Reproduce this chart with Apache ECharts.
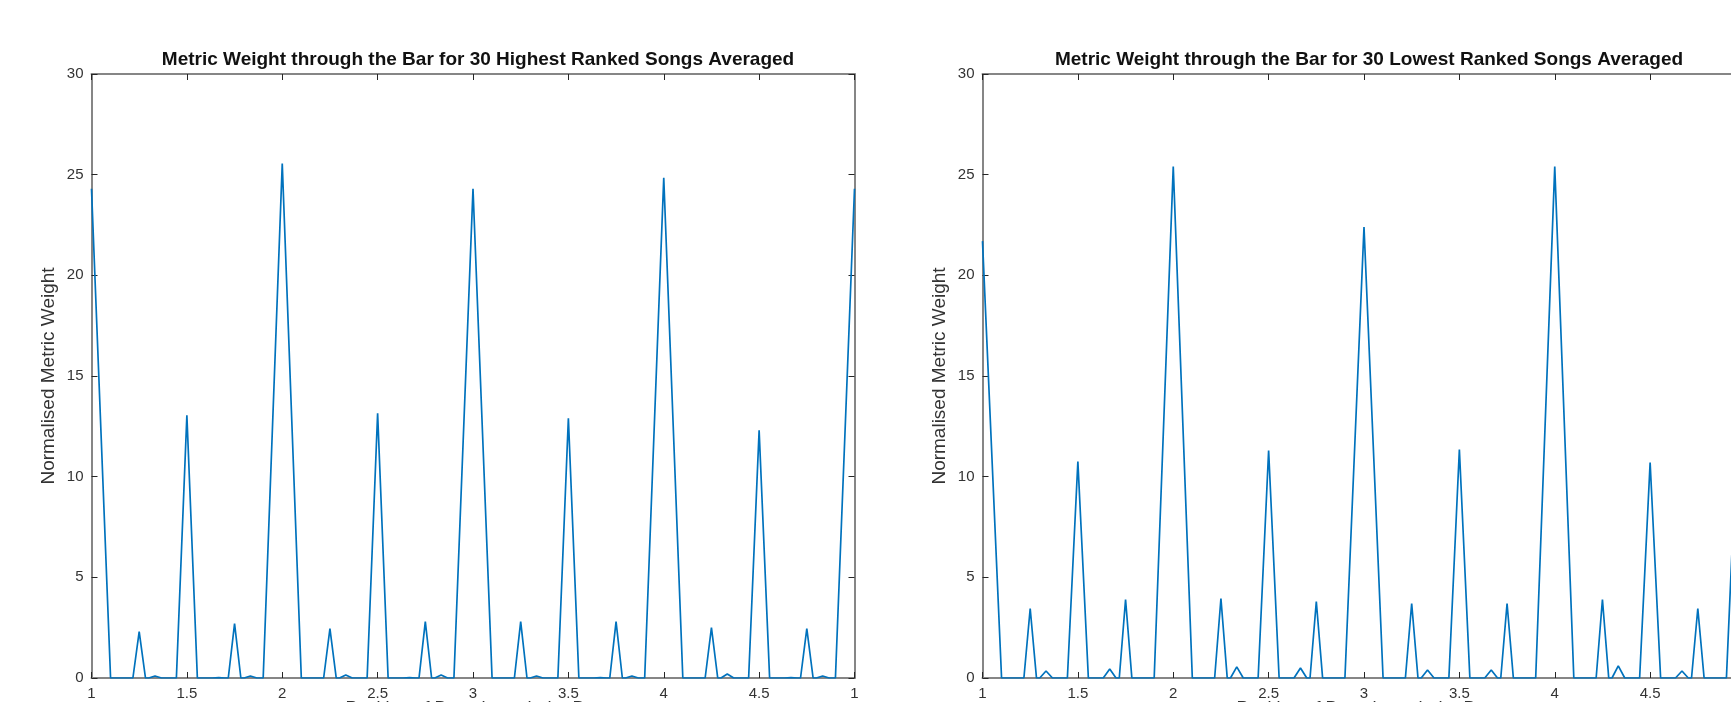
<!DOCTYPE html>
<html>
<head>
<meta charset="utf-8">
<title>Metric Weight through the Bar</title>
<script src="https://cdn.jsdelivr.net/npm/echarts@6/dist/echarts.min.js"></script>
<style>
  html, body { margin: 0; padding: 0; background: #fff; }
  #chart { width: 1731px; height: 702px; }
</style>
</head>
<body>
<div id="chart"></div>
<script>
// position in the bar (beats), shared by both plots
const beatPos = [
  1, 1.1, 1.217, 1.25, 1.283, 1.3, 1.333, 1.367, 1.445, 1.5, 1.555, 1.633, 1.667, 1.7, 1.717, 1.75, 1.783, 1.8, 1.833, 1.867, 1.9,
  2, 2.1, 2.217, 2.25, 2.283, 2.3, 2.333, 2.367, 2.445, 2.5, 2.555, 2.633, 2.667, 2.7, 2.717, 2.75, 2.783, 2.8, 2.833, 2.867, 2.9,
  3, 3.1, 3.217, 3.25, 3.283, 3.3, 3.333, 3.367, 3.445, 3.5, 3.555, 3.633, 3.667, 3.7, 3.717, 3.75, 3.783, 3.8, 3.833, 3.867, 3.9,
  4, 4.1, 4.217, 4.25, 4.283, 4.3, 4.333, 4.367, 4.445, 4.5, 4.555, 4.633, 4.667, 4.7, 4.717, 4.75, 4.783, 4.8, 4.833, 4.867, 4.9,
  5
]

// 30 highest ranked songs
const highWeight = [
  24.3, 0, 0, 2.3, 0, 0, 0.1, 0, 0, 13.05, 0, 0, 0.02, 0, 0, 2.7, 0, 0, 0.1, 0, 0,
  25.55, 0, 0, 2.45, 0, 0, 0.15, 0, 0, 13.15, 0, 0, 0.02, 0, 0, 2.8, 0, 0, 0.15, 0, 0,
  24.3, 0, 0, 2.8, 0, 0, 0.1, 0, 0, 12.9, 0, 0, 0.02, 0, 0, 2.8, 0, 0, 0.1, 0, 0,
  24.85, 0, 0, 2.5, 0, 0, 0.2, 0, 0, 12.3, 0, 0, 0.02, 0, 0, 2.45, 0, 0, 0.1, 0, 0,
  24.3
]

// 30 lowest ranked songs
const lowWeight = [
  21.7, 0, 0, 3.45, 0, 0, 0.35, 0, 0, 10.75, 0, 0, 0.45, 0, 0, 3.9, 0, 0, 0, 0, 0,
  25.4, 0, 0, 3.95, 0, 0, 0.55, 0, 0, 11.3, 0, 0, 0.5, 0, 0, 3.8, 0, 0, 0, 0, 0,
  22.4, 0, 0, 3.7, 0, 0, 0.4, 0, 0, 11.35, 0, 0, 0.4, 0, 0, 3.7, 0, 0, 0, 0, 0,
  25.4, 0, 0, 3.9, 0, 0, 0.6, 0, 0, 10.7, 0, 0, 0.35, 0, 0, 3.45, 0, 0, 0, 0, 0,
  21.7
]

const xTickLabels = ['1', '1.5', '2', '2.5', '3', '3.5', '4', '4.5', '1']
const titles = [
  'Metric Weight through the Bar for 30 Highest Ranked Songs Averaged',
  'Metric Weight through the Bar for 30 Lowest Ranked Songs Averaged'
]
const yName = 'Normalised Metric Weight'
const xName = 'Position of Beat through the Bar'

const FONT = '"Liberation Sans", Arial, Helvetica, sans-serif'
const TEXT = '#333333'
const BOX = '#868686'

const grids = [
  { left: 91.5, top: 74, width: 763, height: 604, outerBoundsMode: 'none', containLabel: false },
  { left: 982.5, top: 74, width: 763, height: 604, outerBoundsMode: 'none', containLabel: false }
]

const toPairs = ys => beatPos.map((x, i) => [x, ys[i]])

const xAxes = []
const yAxes = []
grids.forEach((g, i) => {
  const common = {
    gridIndex: i,
    type: 'value',
    axisLine: { show: true, onZero: false, lineStyle: { color: BOX, width: 2 } },
    axisTick: { show: true, inside: true, length: 6, lineStyle: { color: '#262626', width: 1 } },
    splitLine: { show: false }
  }
  xAxes.push({
    ...common,
    position: 'bottom',
    min: 1, max: 5, interval: 0.5,
    axisLabel: {
      fontFamily: FONT, fontSize: 15, color: TEXT, margin: 8,
      formatter: v => xTickLabels[Math.round((v - 1) / 0.5)]
    },
    // the x label sits at the picture's bottom edge; only its top shows
    name: xName,
    nameLocation: 'middle',
    nameGap: 22,
    nameMoveOverlap: false,
    nameTextStyle: { fontFamily: FONT, fontSize: 18, color: TEXT }
  })
  xAxes.push({
    ...common,
    position: 'top',
    min: 1, max: 5, interval: 0.5,
    axisLabel: { show: false }
  })
  yAxes.push({
    ...common,
    position: 'left',
    min: 0, max: 30, interval: 5,
    axisLabel: { fontFamily: FONT, fontSize: 15, color: TEXT, margin: 8 },
    name: yName,
    nameLocation: 'middle',
    nameRotate: 90,
    nameGap: 33,
    nameMoveOverlap: false,
    nameTextStyle: { fontFamily: FONT, fontSize: 19, color: TEXT }
  })
  yAxes.push({
    ...common,
    position: 'right',
    min: 0, max: 30, interval: 5,
    axisLabel: { show: false }
  })
})

const chart = echarts.init(document.getElementById('chart'), null, { renderer: 'canvas' })

chart.setOption({
  backgroundColor: '#ffffff',
  animation: false,
  title: titles.map((t, i) => ({
    text: t,
    left: grids[i].left + grids[i].width / 2,
    textAlign: 'center',
    top: 45,
    textStyle: { fontFamily: FONT, fontSize: 19, fontWeight: 'bold', color: '#111111' }
  })),
  grid: grids,
  xAxis: xAxes,
  yAxis: yAxes,
  series: [
    {
      type: 'line',
      xAxisIndex: 0,
      yAxisIndex: 0,
      data: toPairs(highWeight),
      showSymbol: false,
      lineStyle: { color: '#0072BD', width: 1.7 }
    },
    {
      type: 'line',
      xAxisIndex: 2,
      yAxisIndex: 2,
      data: toPairs(lowWeight),
      showSymbol: false,
      lineStyle: { color: '#0072BD', width: 1.7 }
    }
  ]
})
</script>
</body>
</html>
